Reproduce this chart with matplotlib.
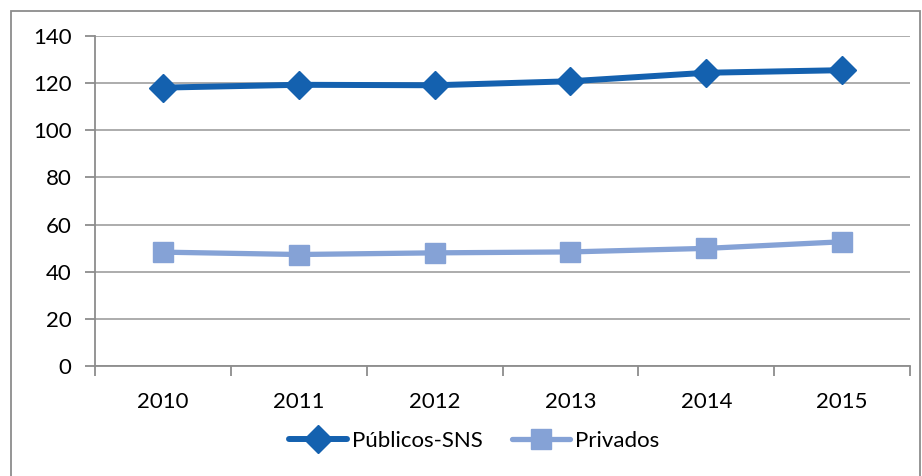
import matplotlib
matplotlib.use("Agg")
import matplotlib.pyplot as plt
from matplotlib.patches import Rectangle

years = ["2010", "2011", "2012", "2013", "2014", "2015"]
publicos = [118.1, 119.3, 119.1, 120.8, 124.4, 125.5]
privados = [48.3, 47.3, 48.0, 48.4, 49.9, 52.7]
yticks = [0, 20, 40, 60, 80, 100, 120, 140]

plt.rcParams['font.family'] = ['Lato', 'DejaVu Sans']

W, H = 922, 476
fig = plt.figure(figsize=(W/100, H/100), dpi=100)
ax = fig.add_axes([95/W, 1-366/H, (910-95)/W, (366-36)/H])

fig.patches.append(Rectangle((11/W, -0.05), (920-11)/W, 1.05-11/H, transform=fig.transFigure,
                             fill=False, edgecolor='#8C8C8C', linewidth=1.3))

x = list(range(len(years)))
dark = '#1461AF'
light = '#85A2D6'
ax.plot(x, publicos, color=dark, lw=4.3, marker='D', markersize=14.5, zorder=4, label='Públicos-SNS', solid_capstyle='round')
ax.plot(x, privados, color=light, lw=3.8, marker='s', markersize=14, zorder=3, label='Privados', solid_capstyle='round')

ax.set_xlim(-0.5, len(years)-0.5)
ax.set_ylim(0, 140)
ax.set_yticks(yticks)
ax.set_yticklabels([str(v) for v in yticks])
ax.set_xticks(x)
ax.set_xticklabels(years)
ax.set_xticks([i - 0.5 for i in range(len(years)+1)], minor=True)
ax.grid(axis='y', color='#A6A6A6', lw=1.3)
ax.set_axisbelow(True)
for s in ['top', 'right']:
    ax.spines[s].set_visible(False)
for s in ['left', 'bottom']:
    ax.spines[s].set_color('#8C8C8C')
    ax.spines[s].set_linewidth(1.3)
ax.tick_params(axis='y', length=7, color='#8C8C8C', width=1.3, labelsize=16, pad=10, labelcolor='black')
ax.tick_params(axis='x', which='major', length=0, labelsize=16, pad=19)
ax.tick_params(axis='x', which='minor', length=7, color='#8C8C8C', width=1.3)

leg = fig.legend(loc='center', bbox_to_anchor=(474/W, 1-441/H), ncol=2, frameon=False,
                 fontsize=16, handlelength=2.6, columnspacing=1.35, handletextpad=0.22,
                 markerscale=1.0)

fig.savefig('out.png', dpi=100)
